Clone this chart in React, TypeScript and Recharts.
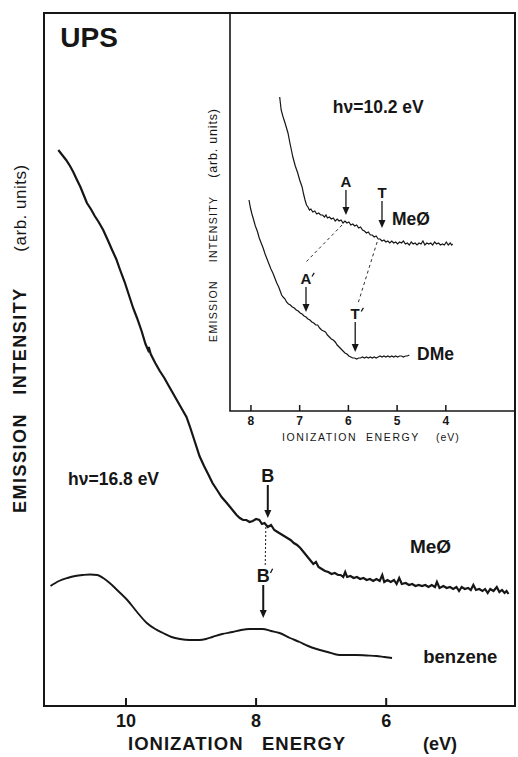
import React from 'react';
import { LineChart, Line, XAxis, YAxis, ReferenceArea, ReferenceLine, ReferenceDot } from 'recharts';

const FONT = "'Liberation Sans', Arial, Helvetica, sans-serif";
const INK = '#161616';

// ---------- main panel: hν = 16.8 eV (ionization energy eV, intensity arb. units) ----------
const mainTicks = [10, 8, 6];
const mainMeO: [number, number][] = [
  [11.04, 556], [10.98, 551], [10.92, 546], [10.86, 540], [10.81, 534], [10.76, 527], [10.70, 519],
  [10.65, 511], [10.60, 503], [10.54, 497], [10.48, 490], [10.42, 484], [10.35, 476], [10.28, 466],
  [10.22, 457], [10.15, 447], [10.09, 436], [10.02, 424], [9.96, 412], [9.89, 398], [9.83, 388],
  [9.76, 375], [9.70, 362], [9.66, 356], [9.65, 359], [9.62, 352], [9.55, 343], [9.48, 335], [9.41, 328],
  [9.35, 321], [9.28, 313], [9.21, 305], [9.14, 297], [9.07, 289], [9.01, 278], [8.94, 264], [8.87, 250],
  [8.80, 240], [8.73, 231], [8.67, 223], [8.60, 216], [8.53, 209], [8.45, 203], [8.40, 199], [8.35, 195],
  [8.30, 191], [8.25, 188], [8.20, 186], [8.15, 186], [8.10, 184], [8.05, 185], [8.00, 187], [7.95, 186],
  [7.91, 182], [7.87, 183], [7.82, 179], [7.77, 181], [7.72, 176], [7.67, 174], [7.62, 172], [7.57, 170],
  [7.52, 168], [7.47, 166], [7.42, 163], [7.37, 161], [7.32, 158], [7.27, 154], [7.22, 150], [7.17, 146],
  [7.12, 142], [7.08, 144], [7.04, 139], [6.99, 137], [6.94, 135], [6.89, 134], [6.84, 132], [6.79, 133],
  [6.74, 131], [6.70, 131], [6.66, 129], [6.63, 134], [6.60, 129], [6.55, 130], [6.50, 128], [6.45, 129],
  [6.40, 127], [6.35, 128], [6.30, 126], [6.25, 127], [6.20, 125], [6.15, 127], [6.10, 125], [6.06, 131],
  [6.03, 124], [5.98, 126], [5.93, 124], [5.88, 126], [5.84, 122], [5.80, 128], [5.76, 122], [5.70, 123],
  [5.65, 121], [5.60, 122], [5.55, 120], [5.50, 121], [5.45, 120], [5.40, 121], [5.35, 119], [5.30, 121],
  [5.25, 119], [5.22, 124], [5.18, 118], [5.12, 120], [5.07, 118], [5.02, 119], [4.97, 117], [4.92, 119],
  [4.88, 115], [4.84, 119], [4.79, 117], [4.74, 118], [4.70, 116], [4.66, 121], [4.62, 116], [4.57, 117],
  [4.52, 115], [4.48, 117], [4.44, 113], [4.40, 117], [4.35, 115], [4.30, 119], [4.26, 114], [4.22, 116],
  [4.18, 113], [4.15, 115], [4.12, 112],
];
const mainBenzene: [number, number][] = [
  [11.16, 120], [11.03, 125], [10.90, 128], [10.78, 130], [10.66, 131], [10.55, 131.5], [10.44, 131],
  [10.35, 128], [10.25, 123], [10.12, 115], [9.98, 106], [9.83, 94], [9.68, 83], [9.55, 77], [9.43, 73],
  [9.30, 69], [9.17, 67], [9.02, 66], [8.87, 66], [8.77, 67], [8.67, 69], [8.52, 72], [8.36, 74],
  [8.23, 76], [8.10, 77], [8.00, 77], [7.90, 77], [7.77, 75], [7.64, 73], [7.48, 68], [7.33, 64],
  [7.20, 60], [7.07, 57], [6.90, 54], [6.72, 51], [6.60, 51], [6.46, 51], [6.30, 50.5], [6.15, 50],
  [6.03, 49], [5.91, 48],
];

// ---------- inset: hν = 10.2 eV ----------
const insetTicks = [8, 7, 6, 5, 4];
const insetMeO: [number, number][] = [
  [7.41, 314], [7.38, 301], [7.34, 294], [7.30, 288], [7.27, 283], [7.24, 278], [7.20, 268], [7.17, 261],
  [7.14, 254], [7.09, 245], [7.04, 238], [7.00, 231], [6.95, 224], [6.92, 217], [6.89, 211], [6.86, 206],
  [6.83, 204], [6.80, 201], [6.77, 202], [6.73, 199], [6.69, 200], [6.65, 197], [6.61, 198], [6.57, 196],
  [6.53, 196], [6.49, 194], [6.46, 196], [6.43, 193], [6.39, 194], [6.35, 192], [6.31, 193], [6.27, 190],
  [6.23, 192], [6.19, 190], [6.15, 191], [6.11, 188], [6.07, 190], [6.03, 188], [5.99, 189], [5.95, 186],
  [5.91, 187], [5.87, 185], [5.83, 186], [5.79, 183], [5.75, 184], [5.71, 181], [5.67, 180], [5.63, 178],
  [5.59, 179], [5.55, 176], [5.51, 176], [5.47, 174], [5.43, 175], [5.39, 172], [5.35, 172], [5.31, 170],
  [5.27, 171], [5.23, 169], [5.19, 170], [5.15, 168], [5.11, 170], [5.07, 168], [5.03, 169], [4.99, 167],
  [4.95, 169], [4.91, 168], [4.87, 170], [4.83, 167], [4.79, 168], [4.75, 166], [4.71, 169], [4.67, 167],
  [4.63, 168], [4.59, 166], [4.55, 168], [4.51, 167], [4.47, 170], [4.43, 166], [4.39, 168], [4.35, 167],
  [4.31, 168], [4.27, 166], [4.23, 169], [4.19, 167], [4.15, 168], [4.11, 166], [4.07, 167], [4.03, 166],
  [3.99, 169], [3.95, 166], [3.91, 168], [3.88, 166], [3.86, 167],
];
const insetDMe: [number, number][] = [
  [8.04, 211], [8.01, 203], [7.98, 197], [7.95, 192], [7.91, 185], [7.87, 180], [7.83, 173], [7.79, 168],
  [7.75, 163], [7.71, 157], [7.67, 152], [7.63, 147], [7.59, 142], [7.55, 138], [7.51, 133], [7.47, 128],
  [7.43, 124], [7.40, 120], [7.37, 116], [7.34, 114], [7.30, 112], [7.27, 109], [7.23, 107], [7.19, 106],
  [7.15, 104], [7.11, 103], [7.07, 101], [7.03, 100], [6.99, 98], [6.95, 97], [6.91, 95], [6.87, 94],
  [6.83, 92], [6.79, 91], [6.75, 89], [6.71, 88], [6.67, 86], [6.63, 86], [6.59, 83], [6.55, 81],
  [6.51, 80], [6.47, 79], [6.43, 76], [6.39, 74], [6.35, 72], [6.31, 71], [6.27, 69], [6.23, 66],
  [6.19, 64], [6.15, 62], [6.11, 60], [6.07, 58], [6.03, 57], [5.99, 55], [5.95, 54], [5.91, 53],
  [5.87, 53], [5.83, 52], [5.79, 53], [5.75, 53], [5.71, 54], [5.67, 53], [5.63, 54], [5.59, 53],
  [5.55, 54], [5.51, 53], [5.47, 54], [5.43, 53], [5.39, 54], [5.35, 55], [5.31, 54], [5.27, 55],
  [5.23, 54], [5.19, 55], [5.15, 54], [5.11, 55], [5.07, 54], [5.03, 55], [4.99, 54], [4.95, 55],
  [4.91, 55], [4.87, 54], [4.83, 55], [4.79, 55], [4.75, 56],
];

const toRows = (arr: [number, number][]) => arr.map(([e, v]) => ({ e, v }));

const MainTick = (props: any) => {
  const { x, y, payload } = props;
  return (
    <g>
      <line x1={x} x2={x} y1={y} y2={y - 8} stroke={INK} strokeWidth={2} />
      <text x={x} y={y + 21} textAnchor="middle" fontFamily={FONT} fontWeight="bold" fontSize={18} fill={INK}>
        {payload.value}
      </text>
    </g>
  );
};

const InsetTick = (props: any) => {
  const { x, y, payload } = props;
  return (
    <g>
      <line x1={x} x2={x} y1={y} y2={y - 6} stroke={INK} strokeWidth={1.5} />
      <text x={x} y={y + 14} textAnchor="middle" fontFamily={FONT} fontWeight="bold" fontSize={12} fill={INK}>
        {payload.value}
      </text>
    </g>
  );
};

const arrowShape = (label: string, prime: boolean, len: number, fs: number, sw: number) => (p: any) => {
  const { cx, cy } = p;
  const top = cy - len;
  const base = top - 3;
  const px = cx + fs * 0.4;
  return (
    <g>
      <line x1={cx} y1={top} x2={cx} y2={cy - 6} stroke={INK} strokeWidth={sw} />
      <path d={`M${cx - 3.5},${cy - 8} L${cx + 3.5},${cy - 8} L${cx},${cy} Z`} fill={INK} />
      <text x={cx} y={base} textAnchor="middle" fontFamily={FONT} fontWeight="bold" fontSize={fs} fill={INK}>
        {label}
      </text>
      {prime ? (
        <line x1={px + 2.2} y1={base - fs * 0.74} x2={px} y2={base - fs * 0.5} stroke={INK} strokeWidth={1.3} />
      ) : null}
    </g>
  );
};

const textShape = (label: string, fs: number, weight: string = 'bold') => (p: any) => (
  <text x={p.cx} y={p.cy} textAnchor="start" fontFamily={FONT} fontWeight={weight} fontSize={fs} fill={INK}>
    {label}
  </text>
);

export default function App() {
  const mainDomain: [number, number] = [4.02, 11.26];
  const insetDomain: [number, number] = [2.58, 8.43];
  return (
    <div style={{ position: 'absolute', left: 0, top: 0, width: 518, height: 757, background: '#fff' }}>
      <div style={{ position: 'absolute', left: 0, top: 0 }}>
        <LineChart width={518} height={757} margin={{ top: 13, right: 3, bottom: 0, left: 44 }}>
          <XAxis
            type="number"
            dataKey="e"
            domain={mainDomain}
            reversed
            allowDataOverflow
            ticks={mainTicks}
            interval={0}
            axisLine={false}
            tickLine={false}
            tickSize={0}
            tickMargin={0}
            height={51}
            tick={<MainTick />}
          />
          <YAxis type="number" dataKey="v" domain={[0, 693]} hide allowDataOverflow />
          <ReferenceArea x1={mainDomain[0]} x2={mainDomain[1]} y1={0} y2={693} fill="none" stroke={INK} strokeWidth={2} ifOverflow="visible" />
          <Line data={toRows(mainMeO)} dataKey="v" type="linear" stroke={INK} strokeWidth={2.2} dot={false} isAnimationActive={false} />
          <Line data={toRows(mainBenzene)} dataKey="v" type="monotone" stroke={INK} strokeWidth={1.9} dot={false} isAnimationActive={false} />
          <ReferenceLine segment={[{ x: 7.85, y: 179 }, { x: 7.86, y: 139 }]} stroke={INK} strokeWidth={1} strokeDasharray="2 2" />
          <ReferenceDot x={7.82} y={188} r={0} shape={arrowShape('B', false, 33, 18, 2)} />
          <ReferenceDot x={7.89} y={88} r={0} shape={arrowShape('B', true, 33, 18, 2)} />
          <ReferenceDot x={11.01} y={659} r={0} shape={textShape('UPS', 28)} />
          <ReferenceDot x={10.89} y={221} r={0} shape={textShape('hν=16.8 eV', 17.5)} />
          <ReferenceDot x={5.635} y={153} r={0} shape={textShape('MeØ', 19)} />
          <ReferenceDot x={5.43} y={43} r={0} shape={textShape('benzene', 18.5)} />
        </LineChart>
      </div>
      <div style={{ position: 'absolute', left: 190, top: 0 }}>
        <LineChart width={328} height={460} margin={{ top: 13, right: 3, bottom: 0, left: 40 }}>
          <XAxis
            type="number"
            dataKey="e"
            domain={insetDomain}
            reversed
            allowDataOverflow
            ticks={insetTicks}
            interval={0}
            axisLine={false}
            tickLine={false}
            tickSize={0}
            tickMargin={0}
            height={49}
            tick={<InsetTick />}
          />
          <YAxis type="number" dataKey="v" domain={[0, 398]} hide allowDataOverflow />
          <ReferenceArea x1={insetDomain[0]} x2={insetDomain[1]} y1={0} y2={398} fill="none" stroke={INK} strokeWidth={1.6} ifOverflow="visible" />
          <Line data={toRows(insetMeO)} dataKey="v" type="linear" stroke={INK} strokeWidth={1.2} dot={false} isAnimationActive={false} />
          <Line data={toRows(insetDMe)} dataKey="v" type="linear" stroke={INK} strokeWidth={1.2} dot={false} isAnimationActive={false} />
          <ReferenceLine segment={[{ x: 6.13, y: 186 }, { x: 6.89, y: 148 }]} stroke={INK} strokeWidth={0.9} strokeDasharray="3 3" />
          <ReferenceLine segment={[{ x: 5.41, y: 169 }, { x: 5.8, y: 108 }]} stroke={INK} strokeWidth={0.9} strokeDasharray="3 3" />
          <ReferenceDot x={6.05} y={196} r={0} shape={arrowShape('A', false, 25, 15, 1.3)} />
          <ReferenceDot x={5.31} y={183} r={0} shape={arrowShape('T', false, 27, 15, 1.3)} />
          <ReferenceDot x={6.87} y={99} r={0} shape={arrowShape('A', true, 25, 15, 1.3)} />
          <ReferenceDot x={5.86} y={59} r={0} shape={arrowShape('T', true, 30, 15, 1.3)} />
          <ReferenceDot x={6.32} y={298} r={0} shape={textShape('hν=10.2 eV', 17.5)} />
          <ReferenceDot x={5.105} y={186} r={0} shape={textShape('MeØ', 17.5)} />
          <ReferenceDot x={4.59} y={51} r={0} shape={textShape('DMe', 17.5)} />
        </LineChart>
      </div>
      <svg width={518} height={757} style={{ position: 'absolute', left: 0, top: 0, pointerEvents: 'none' }}>
        <g fontFamily={FONT} fill={INK}>
          <text transform="translate(26,463) rotate(-90)" textAnchor="middle" fontWeight="bold" fontSize={18} letterSpacing={1.5}>EMISSION</text>
          <text transform="translate(26,341) rotate(-90)" textAnchor="middle" fontWeight="bold" fontSize={18} letterSpacing={1.5}>INTENSITY</text>
          <text transform="translate(26,208) rotate(-90)" textAnchor="middle" fontSize={17} letterSpacing={0.5}>(arb. units)</text>
          <text x={128} y={750} fontWeight="bold" fontSize={18.5} letterSpacing={1}>IONIZATION</text>
          <text x={262} y={750} fontWeight="bold" fontSize={18.5} letterSpacing={1}>ENERGY</text>
          <text x={423} y={750} fontWeight="bold" fontSize={18}>(eV)</text>
          <text transform="translate(217,311) rotate(-90)" textAnchor="middle" fontSize={10.5} letterSpacing={1.3}>EMISSION</text>
          <text transform="translate(217,229) rotate(-90)" textAnchor="middle" fontSize={10.5} letterSpacing={1.3}>INTENSITY</text>
          <text transform="translate(217,143) rotate(-90)" textAnchor="middle" fontSize={12.5} letterSpacing={0.8}>(arb. units)</text>
          <text x={282} y={441} fontSize={10.5} letterSpacing={1.6}>IONIZATION</text>
          <text x={366} y={441} fontSize={10.5} letterSpacing={1.6}>ENERGY</text>
          <text x={436} y={441} fontSize={10.5} letterSpacing={1}>(eV)</text>
        </g>
      </svg>
    </div>
  );
}
